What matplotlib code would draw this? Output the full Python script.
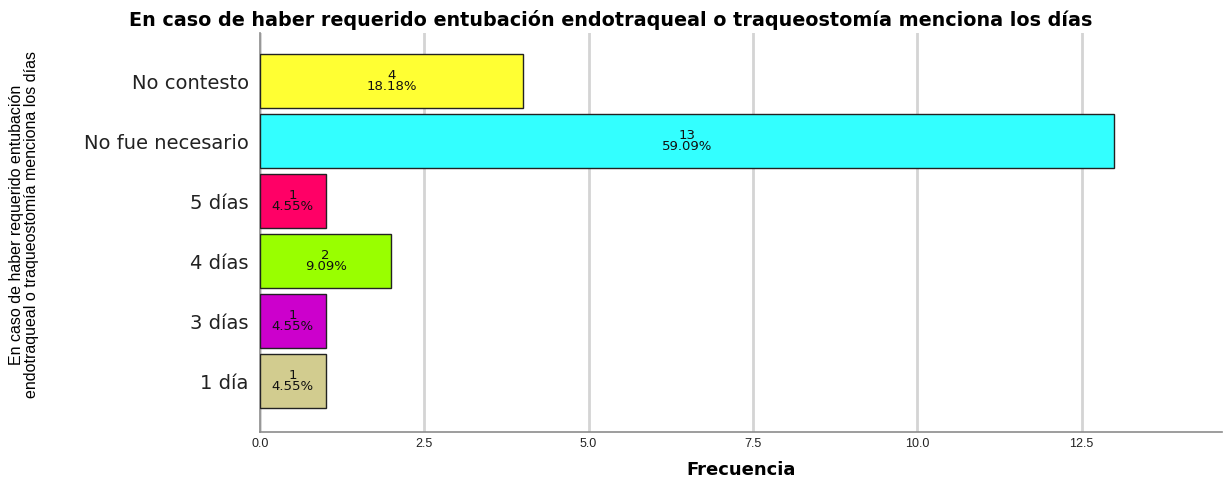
import matplotlib.pyplot as plt

categories = ["1 día", "3 días", "4 días", "5 días", "No fue necesario", "No contesto"]
counts = [1, 1, 2, 1, 13, 4]
percents = ["4.55%", "4.55%", "9.09%", "4.55%", "59.09%", "18.18%"]
colors = ["#D2CC8F", "#CC00CC", "#99FF00", "#FF0066", "#33FFFF", "#FFFF33"]

fig = plt.figure(figsize=(12.24, 4.8), dpi=100)
ax = fig.add_axes([0.2124, 0.1, 0.7856, 0.831])

ypos = list(range(len(categories)))
ax.barh(ypos, counts, height=0.89, color=colors, edgecolor="#222222", linewidth=1, zorder=3)
for y, c, p in zip(ypos, counts, percents):
    ax.text(c / 2, y, f"{c}\n{p}", ha="center", va="center", fontsize=9.5,
            family="DejaVu Sans", color="#111111", linespacing=0.8, zorder=4)

ax.set_xlim(0, 14.63)
ax.set_ylim(-0.85, 5.8)
ax.set_xticks([0, 2.5, 5, 7.5, 10, 12.5])
ax.set_xticklabels(["0.0", "2.5", "5.0", "7.5", "10.0", "12.5"], family="Liberation Sans",
                   fontsize=9, color="#222222")
ax.set_yticks(ypos)
ax.set_yticklabels(categories, family="DejaVu Sans", fontsize=14, color="#222222")
ax.tick_params(axis="both", length=0)
ax.tick_params(axis="y", pad=8)
ax.tick_params(axis="x", pad=4)

ax.grid(axis="x", color="#D4D4D4", linewidth=2, zorder=0)
for s in ["top", "right"]:
    ax.spines[s].set_visible(False)
for s in ["left", "bottom"]:
    ax.spines[s].set_color("#8C8C8C")
    ax.spines[s].set_linewidth(1.2)

ax.set_xlabel("Frecuencia", fontsize=13, fontweight="bold", family="DejaVu Sans", va="center")
ax.xaxis.set_label_coords(0.5, -0.095)
ax.set_ylabel("En caso de haber requerido entubación\nendotraqueal o traqueostomía menciona los días",
              fontsize=11.5, family="Liberation Sans", linespacing=1.0, va="center")
ax.yaxis.set_label_coords(-0.245, 0.52)

fig.suptitle("En caso de haber requerido entubación endotraqueal o traqueostomía menciona los días",
             x=0.499, y=0.958, fontsize=13.8, fontweight="bold", family="DejaVu Sans", va="center")

fig.savefig("out.png", dpi=100)
